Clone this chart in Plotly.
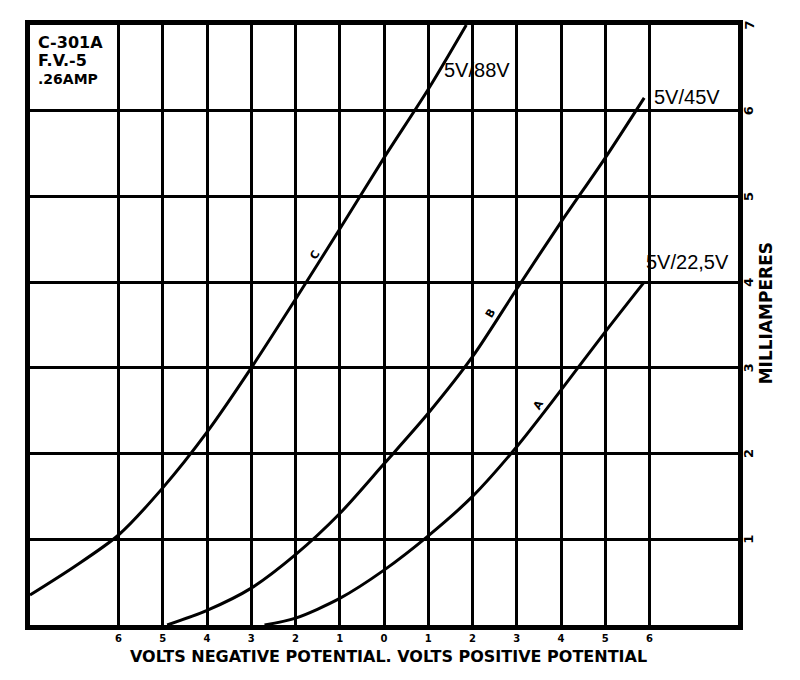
import plotly.graph_objects as go

# grid-bias curves (volts on grid, milliamperes plate current)
volts_c = [-8, -7, -6, -5, -4, -3, -2, -1, 0, 1, 1.86]
ma_c = [0.35, 0.68, 1.05, 1.6, 2.25, 3.0, 3.8, 4.62, 5.45, 6.25, 7.0]

volts_b = [-4.9, -4, -3, -2, -1, 0, 1, 2, 3, 4, 5, 5.88]
ma_b = [0, 0.17, 0.43, 0.82, 1.3, 1.88, 2.47, 3.13, 3.92, 4.7, 5.45, 6.15]

volts_a = [-2.7, -2, -1, 0, 1, 2, 3, 4, 5, 5.88]
ma_a = [0, 0.08, 0.31, 0.64, 1.04, 1.5, 2.08, 2.74, 3.42, 4.0]

x_ticks = [-6, -5, -4, -3, -2, -1, 0, 1, 2, 3, 4, 5, 6]
x_labels = ['6', '5', '4', '3', '2', '1', '0', '1', '2', '3', '4', '5', '6']
y_ticks = [0, 1, 2, 3, 4, 5, 6, 7]
y_labels = ['1', '2', '3', '4', '5', '6', '7']

INK = 'black'
HAND = 'DejaVu Sans, sans-serif'

fig = go.Figure()
for xs, ys in [(volts_c, ma_c), (volts_b, ma_b), (volts_a, ma_a)]:
    fig.add_trace(go.Scatter(x=xs, y=ys, mode='lines',
                             line=dict(color=INK, width=3, shape='spline', smoothing=0.8),
                             showlegend=False, hoverinfo='skip'))

fig.update_xaxes(range=[-8, 8], tickvals=x_ticks, ticktext=x_labels,
                 showgrid=True, gridcolor=INK, gridwidth=3,
                 showline=True, linecolor=INK, linewidth=5, mirror=True,
                 zeroline=False, ticks='', ticklen=0,
                 tickfont=dict(family=HAND, size=10, color=INK, weight='bold'))
fig.update_yaxes(range=[0, 7], tickvals=y_ticks, showticklabels=False,
                 showgrid=True, gridcolor=INK, gridwidth=3,
                 showline=True, linecolor=INK, linewidth=5, mirror=True,
                 zeroline=False, ticks='')

# milliampere numbers sit right on the frame, turned sideways
for i, lab in enumerate(y_labels):
    fig.add_annotation(xref='paper', yref='y', x=1.0, xshift=1, y=y_ticks[i + 1], text=lab,
                       showarrow=False, textangle=-90, xanchor='left', yanchor='middle',
                       font=dict(family=HAND, size=13, color=INK, weight='bold'))

# curve captions
captions = [('5V/88V', 1.3, 6.48), ('5V/45V', 6.05, 6.16), ('5V/22,5V', 5.88, 4.24)]
for txt, xv, yv in captions:
    fig.add_annotation(x=xv, y=yv, text=txt, showarrow=False, xanchor='left',
                       yanchor='middle', font=dict(family='Arial', size=20, color=INK))

# small curve letters
for txt, xv, yv in [('C', -1.55, 4.32), ('B', 2.4, 3.64), ('A', 3.5, 2.57)]:
    fig.add_annotation(x=xv, y=yv, text=txt, showarrow=False, textangle=-60,
                       font=dict(family=HAND, size=11, color=INK, weight='bold'))

# tube data box
fig.add_annotation(x=-7.87, y=6.93, xanchor='left', yanchor='top', align='left',
                   showarrow=False,
                   text="<span style='font-size:16px'>C-301A</span><br>"
                        "<span style='font-size:16px'>F.V.-5</span><br>"
                        "<span style='font-size:14px'>.26AMP</span>",
                   font=dict(family=HAND, size=14, color=INK, weight='bold'))

fig.add_annotation(xref='paper', yref='paper', x=0.506, y=-0.052,
                   text='VOLTS NEGATIVE POTENTIAL. VOLTS POSITIVE POTENTIAL',
                   showarrow=False, xanchor='center', yanchor='middle',
                   font=dict(family=HAND, size=16, color=INK, weight='bold'))
fig.add_annotation(xref='paper', yref='paper', x=1.04, y=0.52, text='MILLIAMPERES',
                   showarrow=False, textangle=-90, xanchor='center', yanchor='middle',
                   font=dict(family=HAND, size=17, color=INK, weight='bold'))

fig.update_layout(width=792, height=672,
                  margin=dict(l=22, r=62, t=17, b=55),
                  plot_bgcolor='white', paper_bgcolor='white')

fig.write_html('out.html')
